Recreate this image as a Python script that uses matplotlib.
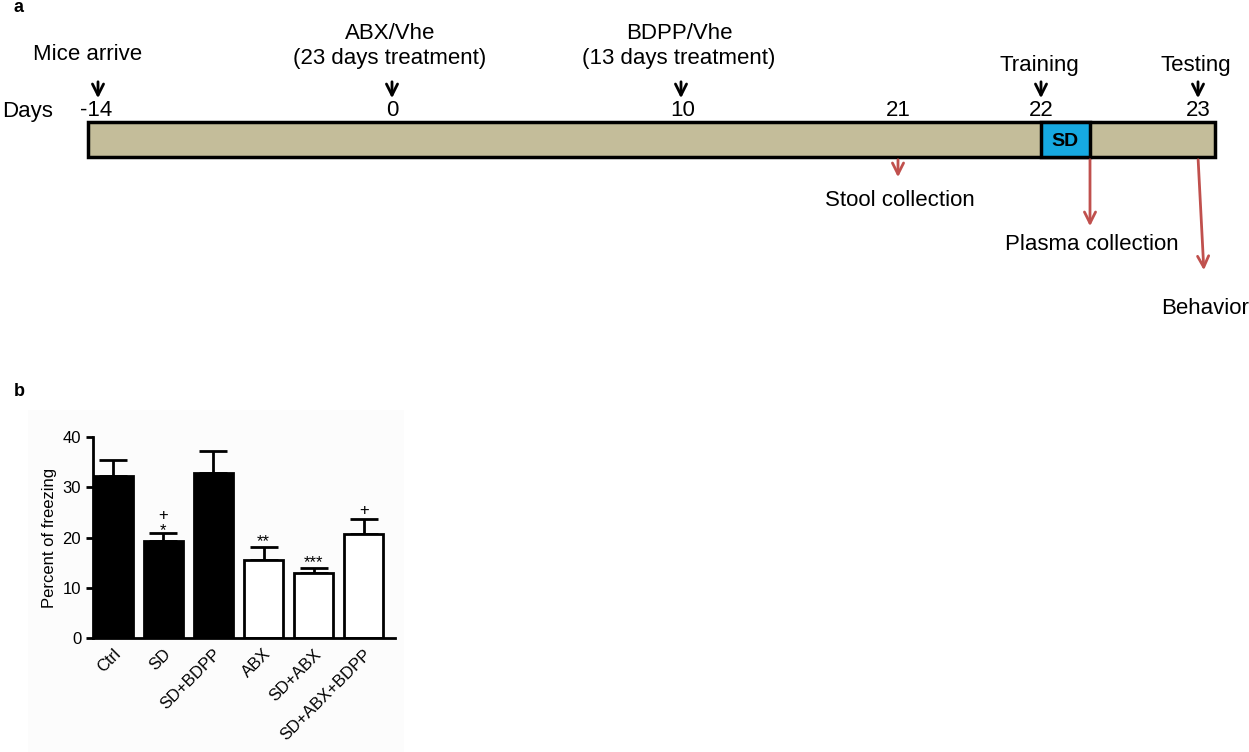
#!/usr/bin/env python3
"""Two-panel figure: experiment timeline (a) and freezing bar chart (b)."""

import matplotlib

matplotlib.use("Agg")
import matplotlib.pyplot as plt
from matplotlib.patches import Rectangle

plt.rcParams["font.family"] = ["Liberation Sans", "DejaVu Sans"]

# panel a: timeline
day_labels = ["-14", "0", "10", "21", "22", "23"]
events_top = ["Mice arrive", "ABX/Vhe\n(23 days treatment)",
              "BDPP/Vhe\n(13 days treatment)", "Training", "Testing"]
events_bottom = ["Stool collection", "Plasma collection", "Behavior"]

# panel b: freezing
groups = ["Ctrl", "SD", "SD+BDPP", "ABX", "SD+ABX", "SD+ABX+BDPP"]
freezing = [32.2, 19.4, 32.8, 15.5, 12.9, 20.7]
sem = [3.2, 1.5, 4.4, 2.6, 1.0, 2.9]
filled = [True, True, True, False, False, False]
stars = ["", "*", "", "**", "***", ""]
plus = ["", "+", "", "", "", "+"]

W, H = 1249, 752
fig = plt.figure(figsize=(W / 100, H / 100), dpi=100)

# full-figure pixel axes for the schematic
ax = fig.add_axes([0, 0, 1, 1])
ax.set_xlim(0, W)
ax.set_ylim(H, 0)
ax.axis("off")

ax.text(14, 8, "a", fontsize=13, fontweight="bold", va="center")
ax.text(14, 391, "b", fontsize=13, fontweight="bold", va="center")

# faint background behind panel b
ax.add_patch(Rectangle((28, 410), 376, 342, facecolor="#fcfcfc",
                       edgecolor="none", zorder=0))

bar_y0, bar_y1 = 122, 157
ax.add_patch(Rectangle((88, bar_y0), 1215 - 88, bar_y1 - bar_y0,
                       facecolor="#c4bd9a", edgecolor="black", lw=2.5, zorder=2))
ax.add_patch(Rectangle((1041, bar_y0), 1090 - 1041, bar_y1 - bar_y0,
                       facecolor="#16a9e1", edgecolor="black", lw=2.5, zorder=3))
ax.text(1065, 141, "SD", fontsize=14, fontweight="bold", ha="center",
        va="center", zorder=4)

ax.text(2, 111, "Days", fontsize=16, va="center")
day_x = [96, 392, 683, 898, 1041, 1198]
for lab, x in zip(day_labels, day_x):
    ax.text(x, 111, lab, fontsize=16, ha="center", va="center")

# black arrows + labels above
top_x = [98, 392, 681, 1041, 1198]
top_y = [54, 46, 46, 66, 66]
for lab, x, y in zip(events_top, top_x, top_y):
    ax.annotate("", xy=(x, 101), xytext=(x, 79),
                arrowprops=dict(arrowstyle="->", lw=2, color="black",
                                mutation_scale=20))
    lx = x - 10 if lab == "Mice arrive" else x - 2
    ax.text(lx, y, lab, fontsize=16, ha="center", va="center",
            linespacing=1.2)

# red arrows + labels below
red = "#c0504d"
starts = [(898, 157), (1090, 157), (1198, 157)]
ends = [(898, 180), (1090, 229), (1204, 273)]
label_pos = [(900, 200), (1092, 245), (1205, 309)]
for lab, s, e, lp in zip(events_bottom, starts, ends, label_pos):
    ax.annotate("", xy=e, xytext=s,
                arrowprops=dict(arrowstyle="->", lw=2, color=red,
                                mutation_scale=20))
    ax.text(lp[0], lp[1], lab, fontsize=16, ha="center", va="center")

# panel b bar chart
bx = fig.add_axes([93 / W, (H - 638) / H, (395 - 93) / W, (638 - 437) / H])
bx.patch.set_alpha(0)
pos = list(range(len(groups)))
for i, (v, e, f) in enumerate(zip(freezing, sem, filled)):
    bx.bar(i, v, width=0.78, color="black" if f else "white",
           edgecolor="black", linewidth=2, zorder=2)
    bx.errorbar(i, v, yerr=[[0], [e]], fmt="none", ecolor="black",
                elinewidth=2, capsize=10, capthick=2, zorder=1)
    if stars[i]:
        soff = -1.5 if plus[i] else 1
        bx.annotate(stars[i], xy=(i, v + e), xytext=(0, soff),
                    textcoords="offset points", ha="center", va="baseline",
                    fontsize=12)
    if plus[i]:
        off = 9 if stars[i] else 3
        bx.annotate(plus[i], xy=(i, v + e), xytext=(0, off),
                    textcoords="offset points", ha="center", va="baseline",
                    fontsize=12)
bx.set_xlim(-0.4, 5.62)
bx.set_ylim(0, 40)
bx.set_yticks([0, 10, 20, 30, 40])
bx.set_xticks(pos)
bx.set_xticklabels(groups, rotation=45, ha="right", rotation_mode="anchor",
                   fontsize=12)
bx.tick_params(axis="y", labelsize=12, width=2, length=5)
bx.tick_params(axis="x", length=0, pad=6)
bx.set_ylabel("Percent of freezing", fontsize=12, labelpad=4)
for side in ("top", "right"):
    bx.spines[side].set_visible(False)
for side in ("left", "bottom"):
    bx.spines[side].set_linewidth(2)

fig.savefig("out.png", dpi=100)
